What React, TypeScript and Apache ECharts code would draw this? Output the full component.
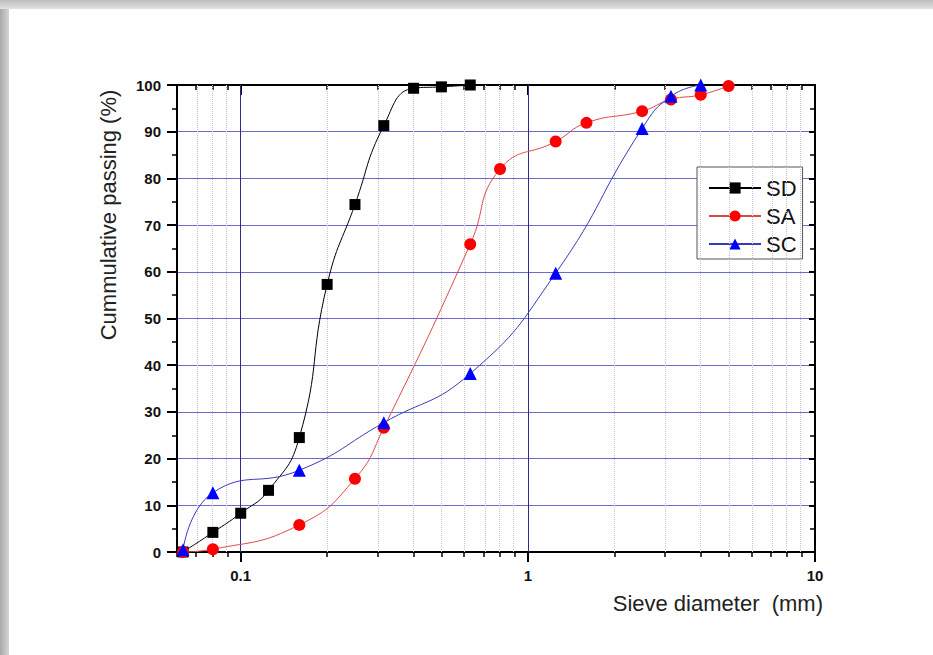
import React, { useEffect, useRef } from 'react';
import * as echarts from 'echarts';

// Sieve diameters (mm) and cumulative passing (%) per sample
const SD_SIEVE = [0.063, 0.08, 0.1, 0.125, 0.16, 0.2, 0.25, 0.315, 0.4, 0.5, 0.63];
const SD_PASS = [0, 4.2, 8.3, 13.2, 24.5, 57.3, 74.4, 91.3, 99.3, 99.6, 100];

const SA_SIEVE = [0.063, 0.08, 0.16, 0.25, 0.315, 0.63, 0.8, 1.25, 1.6, 2.5, 3.15, 4, 5];
const SA_PASS = [0, 0.6, 5.8, 15.7, 26.6, 65.9, 82, 87.9, 91.9, 94.4, 96.9, 97.9, 99.8];

const SC_SIEVE = [0.063, 0.08, 0.16, 0.315, 0.63, 1.25, 2.5, 3.15, 4];
const SC_PASS = [0.5, 12.7, 17.5, 27.7, 38.2, 59.7, 90.7, 97.6, 100];

const SERIES_NAMES = ['SD', 'SA', 'SC'];

// Axis ranges and tick positions
const X_MIN = 0.06;
const X_MAX = 10;
const X_MAJOR = [0.1, 1, 10];
const X_MINOR = [0.06, 0.07, 0.08, 0.09, 0.2, 0.3, 0.4, 0.5, 0.6, 0.7, 0.8, 0.9, 2, 3, 4, 5, 6, 7, 8, 9];
const X_GRID_MAJOR = [0.1, 1];
const Y_MIN = 0;
const Y_MAX = 100;
const Y_STEP = 10;

const X_TITLE = 'Sieve diameter  (mm)';
const Y_TITLE = 'Cummulative passing (%)';

const lg = (v: number) => Math.log10(v);
const FONT = '"Liberation Sans", Arial, sans-serif';

export default function App() {
  const ref = useRef<HTMLDivElement>(null);

  useEffect(() => {
    if (!ref.current) return;
    const chart = echarts.init(ref.current, undefined, { renderer: 'svg' });

    const pts = (s: number[], p: number[]) => s.map((d, i) => [lg(d), p[i]]);

    const xCommon = {
      type: 'value' as const,
      min: lg(X_MIN),
      max: lg(X_MAX),
      splitLine: { show: false },
      axisLabel: { show: false },
    };

    const option: any = {
      animation: false,
      backgroundColor: '#ffffff',
      grid: { left: 177, right: 118, top: 85, bottom: 103, containLabel: false },
      xAxis: [
        {
          ...xCommon,
          position: 'bottom',
          axisLine: { show: true, onZero: false, lineStyle: { color: '#000', width: 2 } },
          axisTick: { show: true, customValues: X_MAJOR.map(lg), length: 10, lineStyle: { color: '#000', width: 2 } },
          axisLabel: {
            show: true,
            customValues: X_MAJOR.map(lg),
            formatter: (v: number) => String(+Math.pow(10, v).toPrecision(3)),
            margin: 16,
            fontSize: 15,
            fontWeight: 'bold',
            color: '#111',
            fontFamily: FONT,
          },
          name: X_TITLE,
          nameLocation: 'end',
          nameGap: 8,
          nameTextStyle: {
            fontSize: 22,
            fontFamily: FONT,
            color: '#222',
            align: 'right',
            verticalAlign: 'top',
            padding: [40, 0, 0, 0],
          },
        },
        {
          ...xCommon,
          position: 'bottom',
          axisLine: { show: false, onZero: false },
          axisTick: { show: true, customValues: X_MINOR.map(lg), length: 5, lineStyle: { color: '#000', width: 1.5 } },
        },
        {
          ...xCommon,
          position: 'top',
          axisLine: { show: true, onZero: false, lineStyle: { color: '#000', width: 2 } },
          axisTick: { show: true, inside: true, customValues: X_MAJOR.map(lg), length: 10, lineStyle: { color: '#000', width: 2 } },
        },
        {
          ...xCommon,
          position: 'top',
          axisLine: { show: false, onZero: false },
          axisTick: { show: true, inside: true, customValues: X_MINOR.map(lg), length: 5, lineStyle: { color: '#000', width: 1.5 } },
        },
      ],
      yAxis: [
        {
          type: 'value',
          position: 'left',
          min: Y_MIN,
          max: Y_MAX,
          interval: Y_STEP,
          axisLine: { show: true, onZero: false, lineStyle: { color: '#000', width: 2 } },
          axisTick: { show: true, length: 10, lineStyle: { color: '#000', width: 2 } },
          minorTick: { show: true, splitNumber: 2, length: 5, lineStyle: { color: '#000', width: 1.5 } },
          axisLabel: { margin: 16, fontSize: 15, fontWeight: 'bold', color: '#111', fontFamily: FONT },
          splitLine: { show: true, lineStyle: { color: '#6a6ad0', width: 1 } },
        },
        {
          type: 'value',
          position: 'right',
          min: Y_MIN,
          max: Y_MAX,
          interval: Y_STEP,
          axisLine: { show: true, onZero: false, lineStyle: { color: '#000', width: 2 } },
          axisTick: { show: true, inside: true, length: 6, lineStyle: { color: '#000', width: 2 } },
          minorTick: { show: true, splitNumber: 2, length: 5, lineStyle: { color: '#000', width: 1.5 } },
          axisLabel: { show: false },
          splitLine: { show: false },
        },
      ],
      legend: {
        orient: 'vertical',
        left: 697,
        top: 167,
        data: SERIES_NAMES,
        itemWidth: 52,
        itemHeight: 14,
        itemGap: 6,
        padding: [10, 6, 4, 11],
        borderColor: '#555',
        borderWidth: 1,
        borderRadius: 0,
        backgroundColor: '#fff',
        textStyle: { fontSize: 22, fontFamily: FONT, color: '#111', lineHeight: 22 },
      },
      graphic: [
        {
          type: 'rect',
          shape: { x: 0, y: 0, width: 933, height: 9 },
          style: {
            fill: {
              type: 'linear', x: 0, y: 0, x2: 0, y2: 1,
              colorStops: [
                { offset: 0, color: '#bdbdbd' },
                { offset: 1, color: '#e2e2e2' },
              ],
            },
          },
          z: -10,
          silent: true,
        },
        {
          type: 'rect',
          shape: { x: 0, y: 9, width: 9, height: 646 },
          style: {
            fill: {
              type: 'linear', x: 0, y: 0, x2: 1, y2: 0,
              colorStops: [
                { offset: 0, color: '#a9a9a9' },
                { offset: 1, color: '#d6d6d6' },
              ],
            },
          },
          z: -10,
          silent: true,
        },
        {
          type: 'text',
          x: 108,
          y: 215,
          rotation: Math.PI / 2,
          style: {
            text: Y_TITLE,
            font: `22px ${FONT}`,
            fill: '#222',
            align: 'center',
            verticalAlign: 'middle',
          },
          silent: true,
        },
      ],
      series: [
        {
          type: 'line',
          name: '__grid',
          data: [],
          silent: true,
          z: 1,
          markLine: {
            silent: true,
            symbol: ['none', 'none'],
            label: { show: false },
            animation: false,
            data: [
              ...X_MINOR.filter((v) => v > X_MIN).map((v) => ({
                xAxis: lg(v),
                lineStyle: { color: '#c4c4d4', type: 'dotted', width: 1 },
              })),
              ...X_GRID_MAJOR.map((v) => ({
                xAxis: lg(v),
                lineStyle: { color: '#2c2c8c', type: 'solid', width: 1 },
              })),
            ],
          },
        },
        {
          type: 'line',
          name: 'SD',
          data: pts(SD_SIEVE, SD_PASS),
          smooth: 0.5,
          symbol: 'rect',
          symbolSize: 11,
          itemStyle: { color: '#000000' },
          lineStyle: { color: '#000000', width: 1 },
          z: 5,
        },
        {
          type: 'line',
          name: 'SA',
          data: pts(SA_SIEVE, SA_PASS),
          smooth: 0.5,
          symbol: 'circle',
          symbolSize: 12,
          itemStyle: { color: '#ff0000' },
          lineStyle: { color: '#e04848', width: 1 },
          z: 5,
        },
        {
          type: 'line',
          name: 'SC',
          data: pts(SC_SIEVE, SC_PASS),
          smooth: 0.5,
          symbol: 'triangle',
          symbolSize: 13,
          itemStyle: { color: '#0000ff' },
          lineStyle: { color: '#3a3ac0', width: 1 },
          z: 6,
        },
      ],
    };

    chart.setOption(option);
    return () => chart.dispose();
  }, []);

  return (
    <div
      ref={ref}
      style={{ position: 'fixed', left: 0, top: 0, width: 933, height: 655, background: '#fff' }}
    />
  );
}
